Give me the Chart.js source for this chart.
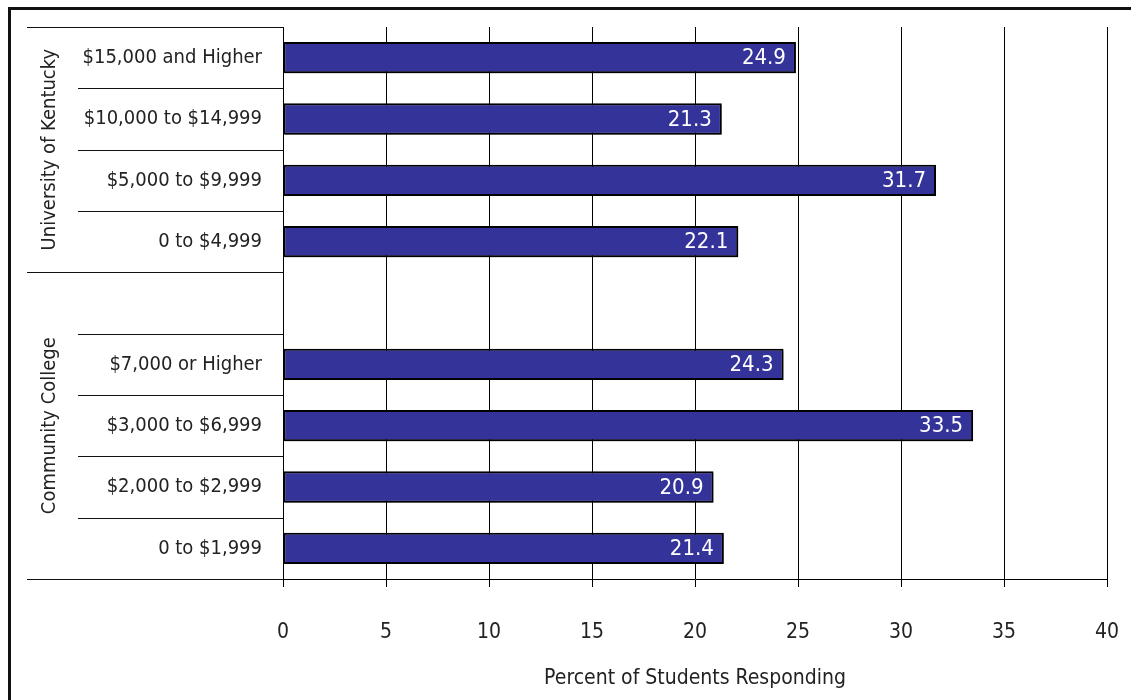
<!DOCTYPE html>
<html><head><meta charset="utf-8">
<script src="https://cdn.jsdelivr.net/npm/chart.js@4/dist/chart.umd.min.js"></script>
<style>html,body{margin:0;padding:0;background:#fff;}#wrap{width:1131px;height:700px;position:relative;}</style>
</head><body><div id="wrap"><canvas id="c" width="1131" height="700"></canvas></div>
<script>
const categories = ['$15,000 and Higher','$10,000 to $14,999','$5,000 to $9,999','0 to $4,999','','$7,000 or Higher','$3,000 to $6,999','$2,000 to $2,999','0 to $1,999'];
const values = [24.9, 21.3, 31.7, 22.1, null, 24.3, 33.5, 20.9, 21.4];
const groups = [
  {label:'University of Kentucky', from:0, to:3},
  {label:'Community College', from:4, to:8}
];
const xTicks = [0,5,10,15,20,25,30,35,40];
const FONT = '"Liberation Sans Narrow","DejaVu Sans Condensed","Liberation Sans",sans-serif';
const TXT = '#222';

function zeroPad(s){ s.paddingLeft = 0; s.paddingRight = 0; s.paddingTop = 0; s.paddingBottom = 0; }

const framePlugin = {
  id:'frame',
  beforeDraw(chart){
    const ctx = chart.ctx;
    ctx.save();
    ctx.strokeStyle = '#111';
    ctx.lineWidth = 3;
    ctx.strokeRect(9.5, 8.5, 1200, 800);
    ctx.restore();
  },
  beforeDatasetsDraw(chart){
    const ctx = chart.ctx;
    ctx.save();
    ctx.shadowColor = 'rgba(0,0,0,0.35)';
    ctx.shadowOffsetX = 2;
    ctx.shadowOffsetY = 2;
    ctx.shadowBlur = 0;
  },
  afterDatasetsDraw(chart){
    const ctx = chart.ctx;
    ctx.restore();
    const y = chart.scales.y;
    const area = chart.chartArea;
    const half = (y.getPixelForValue(1) - y.getPixelForValue(0)) / 2;
    ctx.save();
    ctx.strokeStyle = '#111';
    ctx.lineWidth = 1;
    for (let i = 0; i <= categories.length; i++) {
      const py = Math.round(y.getPixelForValue(i) - half) + 0.5;
      const isGroupEdge = groups.some(g => g.from === i) || i === categories.length;
      const x0 = isGroupEdge ? 27 : 78;
      ctx.beginPath();
      ctx.moveTo(x0, py);
      ctx.lineTo(area.left, py);
      ctx.stroke();
    }
    ctx.fillStyle = TXT;
    ctx.font = '20px ' + FONT;
    ctx.textAlign = 'center';
    ctx.textBaseline = 'middle';
    groups.forEach(g => {
      const cy = (y.getPixelForValue(g.from) + y.getPixelForValue(g.to)) / 2;
      ctx.save();
      ctx.translate(50, cy);
      ctx.rotate(-Math.PI/2);
      ctx.fillText(g.label, 0, 0);
      ctx.restore();
    });
    const meta = chart.getDatasetMeta(0);
    ctx.fillStyle = '#fff';
    ctx.textAlign = 'right';
    ctx.font = '22px ' + FONT;
    meta.data.forEach((bar, i) => {
      if (values[i] == null) return;
      ctx.fillText(values[i].toFixed(1), bar.x - 10, bar.y + 1);
    });
    ctx.restore();
  }
};

new Chart(document.getElementById('c'), {
  type:'bar',
  data:{
    labels: categories,
    datasets:[{
      data: values,
      backgroundColor:'#333399',
      borderColor:'#000',
      borderWidth:2,
      borderSkipped:false,
      barPercentage:0.51,
      categoryPercentage:1
    }]
  },
  options:{
    indexAxis:'y',
    responsive:false,
    animation:false,
    devicePixelRatio:1,
    layout:{padding:{left:0, right:24, top:27, bottom:0}},
    plugins:{legend:{display:false}, tooltip:{enabled:false}},
    scales:{
      x:{
        min:0, max:40,
        afterBuildTicks(s){ s.ticks = xTicks.map(v => ({value:v})); },
        afterFit(s){ s.height = 121; zeroPad(s); },
        grid:{color:'#000', lineWidth:1, drawTicks:true, tickLength:8, tickColor:'#000'},
        border:{display:true, color:'#000', width:1},
        ticks:{color:TXT, font:{family:FONT, size:21}, padding:33, maxRotation:0},
        title:{display:true, text:'Percent of Students Responding', color:TXT, font:{family:FONT, size:21}, padding:{top:0, bottom:9}}
      },
      y:{
        afterFit(s){ s.width = 283; zeroPad(s); },
        grid:{display:false, drawTicks:false},
        border:{display:false},
        ticks:{color:TXT, font:{family:FONT, size:20}, padding:21, autoSkip:false}
      }
    }
  },
  plugins:[framePlugin]
});
</script>
</body></html>
